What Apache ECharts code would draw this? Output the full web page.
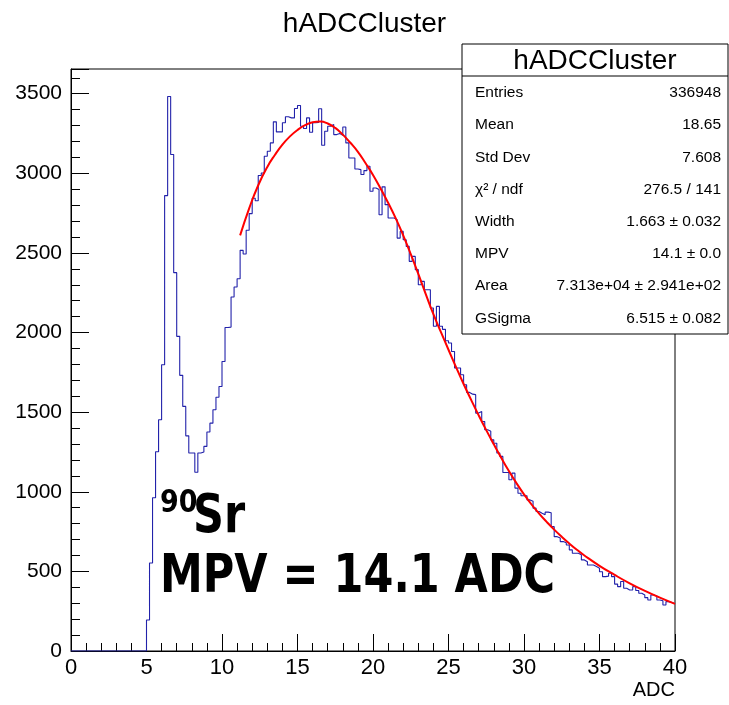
<!DOCTYPE html>
<html><head><meta charset="utf-8">
<script src="https://cdn.jsdelivr.net/npm/echarts@6/dist/echarts.min.js"></script>
<style>html,body{margin:0;padding:0;background:#fff}#c{width:729px;height:705px}</style>
</head><body><div id="c"></div>
<script>
// Histogram binning (ADC): 200 bins of width 0.2 from 0 to 40
const binStart = 0;
const binWidth = 0.2;
const counts = [
  0,0,0,0,0, 0,0,0,0,0, 0,0,0,0,0, 0,0,0,0,0, 0,0,0,0,0,
  195, 553, 962, 1251, 1452,
  1798, 2860, 3482, 3118, 2376,
  1976, 1731, 1536, 1351, 1243,
  1243, 1123, 1243, 1250, 1285,
  1375, 1431, 1515, 1594, 1661,
  1818, 2032, 2034, 2223, 2286,
  2338, 2516, 2493, 2642, 2747,
  2843, 2828, 2986, 3002, 3107,
  3138, 3191, 3323, 3260, 3260,
  3317, 3355, 3348, 3348, 3407,
  3426, 3295, 3281, 3348, 3258,
  3317, 3320, 3405, 3176, 3264,
  3295, 3306, 3243, 3250, 3238,
  3291, 3191, 3096, 3096, 3027,
  3023, 2992, 3017, 3044, 2887,
  2908, 2898, 2740, 2915, 2803,
  2719, 2719, 2708, 2593, 2635,
  2583, 2541, 2447, 2478, 2395,
  2300, 2321, 2269, 2269, 2154,
  2039, 2164, 2039, 2020, 1948,
  1934, 1881, 1777, 1777, 1735,
  1672, 1624, 1613, 1610, 1494,
  1504, 1441, 1389, 1380, 1326,
  1305, 1243, 1222, 1121, 1121,
  1075, 1117, 1023, 991, 975,
  975, 949, 940, 897, 876,
  865, 855, 872, 868, 781,
  718, 710, 687, 680, 666,
  635, 614, 614, 604, 572,
  560, 540, 540, 530, 520,
  498, 467, 470, 488, 467,
  420, 404, 436, 394, 383,
  383, 404, 380, 363, 352,
  335, 320, 352, 345, 320,
  315, 289, 310, 305, 296
];
// Fit curve (langaus)
const fitX = [11.2, 11.8, 12.4, 13.0, 13.5, 14.0, 14.5, 15.0, 15.5, 16.0, 16.5, 17.0, 17.5, 18.0, 18.5, 19.0, 19.5, 20.0, 20.5, 21.0, 21.5, 22.0, 22.5, 23.0, 23.5, 24.0, 24.5, 25.0, 25.5, 26.0, 26.5, 27.0, 27.5, 28.0, 28.5, 29.0, 29.5, 30.0, 30.5, 31.0, 31.5, 32.0, 32.5, 33.0, 33.5, 34.0, 35.0, 36.0, 37.0, 38.0, 39.0, 40.0];
const fitY = [2610, 2780, 2925, 3040, 3115, 3180, 3232, 3272, 3302, 3320, 3325, 3313, 3285, 3243, 3192, 3135, 3065, 2990, 2905, 2815, 2718, 2610, 2492, 2368, 2240, 2115, 2002, 1892, 1782, 1677, 1577, 1480, 1387, 1298, 1212, 1130, 1054, 984, 920, 863, 811, 762, 717, 675, 636, 600, 535, 478, 425, 378, 335, 296];

const statLabels = ['Entries', 'Mean', 'Std Dev', 'χ² / ndf', 'Width', 'MPV', 'Area', 'GSigma'];
const statValues = ['336948', '18.65', '7.608', '276.5 / 141', '1.663 ± 0.032', '14.1 ± 0.0', '7.313e+04 ± 2.941e+02', '6.515 ± 0.082'];

const histData = counts.map((c, i) => [binStart + i * binWidth, c]);
histData.push([binStart + counts.length * binWidth, counts[counts.length - 1]]);
const fitData = fitX.map((x, i) => [x, fitY[i]]);

const FONT = 'Liberation Sans, Helvetica, Arial, sans-serif';
const chart = echarts.init(document.getElementById('c'), null, {renderer: 'canvas'});

const graphics = [];
// stats box
const bx = 462, by = 44, bw = 266, bh = 290;
graphics.push({type: 'rect', z: 100, shape: {x: bx, y: by, width: bw, height: bh},
  style: {fill: '#fff', stroke: '#000', lineWidth: 1}});
graphics.push({type: 'line', z: 101, shape: {x1: bx, y1: 76, x2: bx + bw, y2: 76},
  style: {stroke: '#000', lineWidth: 1}});
graphics.push({type: 'text', z: 102, style: {x: bx + bw / 2, y: 61, text: 'hADCCluster',
  font: '28px ' + FONT, fill: '#000', textAlign: 'center', textVerticalAlign: 'middle'}});
statLabels.forEach((l, i) => {
  const y = 93 + i * 32.2;
  graphics.push({type: 'text', z: 102, style: {x: 475, y: y, text: l, font: '15.5px ' + FONT,
    fill: '#000', textAlign: 'left', textVerticalAlign: 'middle'}});
  graphics.push({type: 'text', z: 102, style: {x: 721, y: y, text: statValues[i], font: '15.5px ' + FONT,
    fill: '#000', textAlign: 'right', textVerticalAlign: 'middle'}});
});
// annotation
const ANN = 'Comic Sans MS, DejaVu Sans, sans-serif';
graphics.push({type: 'text', z: 50, x: 160, y: 504, scaleY: 1.2, style: {x: 0, y: 0, text: '90',
  font: 'bold 27px ' + ANN, fill: '#000', textAlign: 'left', textVerticalAlign: 'middle'}});
graphics.push({type: 'text', z: 50, x: 193, y: 518, scaleY: 1.26, style: {x: 0, y: 0, text: 'Sr',
  font: 'bold 43px ' + ANN, fill: '#000', textAlign: 'left', textVerticalAlign: 'middle'}});
graphics.push({type: 'text', z: 50, x: 160, y: 578, scaleY: 1.26, style: {x: 0, y: 0, text: 'MPV = 14.1 ADC',
  font: 'bold 43px ' + ANN, fill: '#000', textAlign: 'left', textVerticalAlign: 'middle'}});

chart.setOption({
  animation: false,
  backgroundColor: '#fff',
  title: {text: 'hADCCluster', left: 'center', top: 5,
    textStyle: {fontSize: 28, fontWeight: 'normal', color: '#000', fontFamily: FONT}},
  grid: {left: 71, right: 54, top: 69, bottom: 54, show: true, borderColor: '#000', borderWidth: 1},
  xAxis: {
    type: 'value', min: 0, max: 40, interval: 5,
    name: 'ADC', nameLocation: 'end', nameGap: 0,
    nameTextStyle: {fontSize: 20, color: '#000', fontFamily: FONT, align: 'right', verticalAlign: 'top', padding: [29, 0, 0, 0]},
    axisLine: {show: true, onZero: false, lineStyle: {color: '#000', width: 1}},
    axisTick: {show: true, inside: true, length: 17, lineStyle: {color: '#000'}},
    minorTick: {show: true, splitNumber: 5, length: 8, lineStyle: {color: '#000'}},
    axisLabel: {fontSize: 22, color: '#000', fontFamily: FONT, margin: 6, formatter: v => String(v)},
    splitLine: {show: false}
  },
  yAxis: {
    type: 'value', min: 0, max: 3655, interval: 500,
    axisLine: {show: true, lineStyle: {color: '#000', width: 1}},
    axisTick: {show: true, inside: true, length: 18, lineStyle: {color: '#000'}},
    minorTick: {show: true, splitNumber: 5, length: 9, lineStyle: {color: '#000'}},
    axisLabel: {fontSize: 21, color: '#000', fontFamily: FONT, margin: 9, showMaxLabel: false, formatter: v => String(v)},
    splitLine: {show: false}
  },
  series: [
    {type: 'line', name: 'hADCCluster', data: histData, step: 'end', symbol: 'none',
     lineStyle: {color: '#2222aa', width: 1.1}, clip: true, z: 2},
    {type: 'line', name: 'fit', data: fitData, smooth: true, symbol: 'none',
     lineStyle: {color: '#ff0000', width: 2}, clip: true, z: 3}
  ],
  graphic: graphics
});
</script></body></html>
